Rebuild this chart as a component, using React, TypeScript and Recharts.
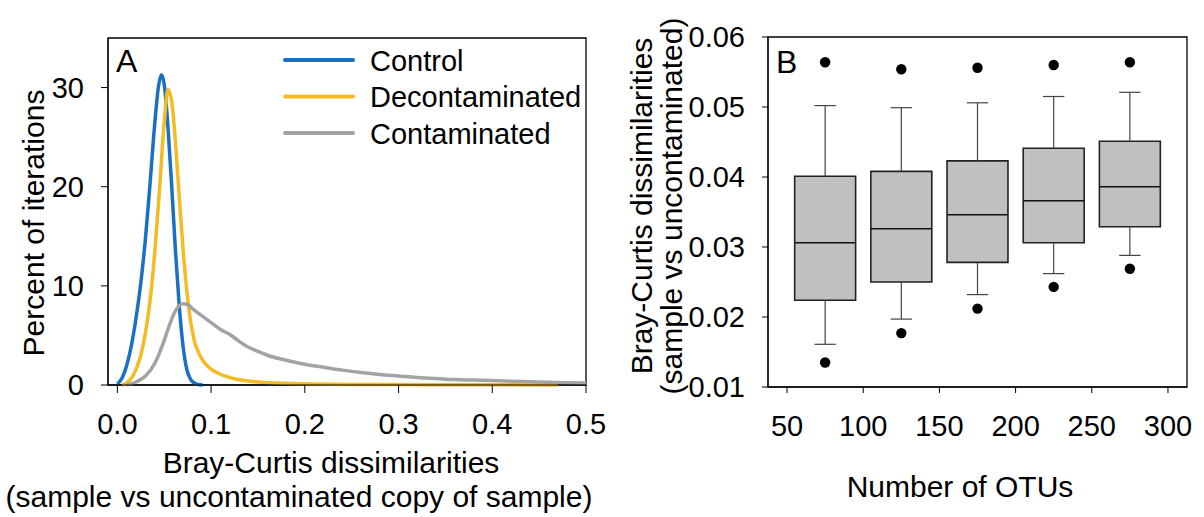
import React from 'react';
import {
  ComposedChart, Line, Scatter, XAxis, YAxis, ZAxis, ReferenceArea, ReferenceLine,
} from 'recharts';

const FONT = '"Liberation Sans", Arial, Helvetica, sans-serif';

// Panel A: distribution of Bray-Curtis dissimilarities (percent of iterations)
const controlX = [0, 0.005, 0.01, 0.015, 0.02, 0.025, 0.03, 0.035, 0.04, 0.044, 0.047, 0.05, 0.054, 0.058, 0.062, 0.066, 0.07, 0.074, 0.078, 0.082, 0.086, 0.091];
const controlY = [0.1, 0.7, 2.0, 4.0, 6.8, 10.3, 14.8, 20.5, 26.5, 30.2, 31.3, 30.3, 26.0, 20.0, 13.5, 8.0, 4.0, 1.6, 0.6, 0.2, 0.05, 0];

const deconX = [0.005, 0.01, 0.015, 0.02, 0.025, 0.03, 0.035, 0.04, 0.045, 0.05, 0.054, 0.058, 0.062, 0.066, 0.07, 0.074, 0.078, 0.082, 0.088, 0.095, 0.105, 0.12, 0.14, 0.17, 0.2, 0.25, 0.3, 0.35, 0.4, 0.47];
const deconY = [0, 0.2, 0.7, 1.6, 3.0, 5.3, 8.6, 13.5, 19.8, 26.5, 29.8, 28.6, 24.5, 19.0, 13.8, 9.6, 6.5, 4.5, 3.0, 2.0, 1.3, 0.75, 0.4, 0.2, 0.12, 0.06, 0.04, 0.03, 0.02, 0.01];

const contamX = [0.01, 0.02, 0.03, 0.04, 0.05, 0.055, 0.06, 0.065, 0.07, 0.075, 0.08, 0.09, 0.1, 0.11, 0.12, 0.13, 0.14, 0.15, 0.16, 0.18, 0.2, 0.22, 0.24, 0.26, 0.28, 0.3, 0.32, 0.34, 0.36, 0.38, 0.4, 0.42, 0.44, 0.46, 0.48, 0.5];
const contamY = [0, 0.3, 0.9, 2.2, 4.5, 5.9, 7.1, 7.9, 8.2, 8.1, 7.7, 7.0, 6.3, 5.6, 5.1, 4.4, 3.8, 3.4, 3.0, 2.5, 2.1, 1.8, 1.5, 1.25, 1.05, 0.9, 0.75, 0.65, 0.55, 0.5, 0.45, 0.38, 0.32, 0.27, 0.22, 0.2];

const xTicksA = [0, 0.1, 0.2, 0.3, 0.4, 0.5];
const yTicksA = [0, 10, 20, 30];

const seriesA = [
  { name: 'Control', color: '#1a70c2', xs: controlX, ys: controlY },
  { name: 'Decontaminated', color: '#f5bb24', xs: deconX, ys: deconY },
  { name: 'Contaminated', color: '#a3a3a3', xs: contamX, ys: contamY },
];

// Panel B: box plots by number of OTUs
const otus = [75, 125, 175, 225, 275];
const whiskerLow = [0.0161, 0.0197, 0.0232, 0.0262, 0.0288];
const q1 = [0.0224, 0.0250, 0.0278, 0.0306, 0.0329];
const median = [0.0306, 0.0326, 0.0346, 0.0366, 0.0386];
const q3 = [0.0401, 0.0408, 0.0423, 0.0441, 0.0451];
const whiskerHigh = [0.0502, 0.0499, 0.0506, 0.0515, 0.0521];
const outlierLow = [0.0135, 0.0177, 0.0212, 0.0243, 0.0269];
const outlierHigh = [0.0564, 0.0554, 0.0556, 0.0560, 0.0564];

const xTicksB = [50, 100, 150, 200, 250, 300];
const yTicksB = [0.01, 0.02, 0.03, 0.04, 0.05, 0.06];

const BOX_HALF = 20;
const CAP_HALF = 7;

const tickStyle = { fill: '#000', fontSize: 29, fontFamily: FONT };

const zip = (xs: number[], ys: number[]) => xs.map((x, i) => ({ x, y: ys[i] }));

const outliers = otus.flatMap((x, i) => [
  { x, y: outlierLow[i] },
  { x, y: outlierHigh[i] },
]);

const PanelA = () => (
  <ComposedChart width={630} height={517} margin={{ top: 38, right: 44, bottom: 0, left: 0 }}>
    <XAxis
      type="number"
      dataKey="x"
      domain={[-0.01, 0.5]}
      ticks={xTicksA}
      tickFormatter={(v: number) => v.toFixed(1)}
      height={132}
      tickSize={8}
      tickMargin={20}
      stroke="#000"
      tick={tickStyle}
      allowDataOverflow
    />
    <YAxis
      type="number"
      domain={[0, 35]}
      ticks={yTicksA}
      width={108}
      tickSize={7}
      tickMargin={17}
      stroke="#000"
      tick={tickStyle}
    />
    {seriesA.map((s) => (
      <Line
        key={s.name}
        data={zip(s.xs, s.ys)}
        dataKey="y"
        type="monotone"
        stroke={s.color}
        strokeWidth={3.5}
        dot={false}
        activeDot={false}
        isAnimationActive={false}
      />
    ))}
    <ReferenceArea x1={-0.01} x2={0.5} y1={0} y2={35} fill="none" stroke="#000" strokeWidth={1.3} ifOverflow="visible" />
  </ComposedChart>
);

const PanelB = () => (
  <ComposedChart width={604} height={517} margin={{ top: 37, right: 17, bottom: 0, left: 0 }}>
    <XAxis
      type="number"
      dataKey="x"
      domain={[37.5, 312.5]}
      ticks={xTicksB}
      height={130}
      tickSize={6}
      tickMargin={22}
      stroke="#000"
      tick={tickStyle}
      allowDataOverflow
    />
    <YAxis
      type="number"
      dataKey="y"
      domain={[0.01, 0.06]}
      ticks={yTicksB}
      tickFormatter={(v: number) => v.toFixed(2)}
      width={168}
      tickSize={6}
      tickMargin={17}
      stroke="#000"
      tick={tickStyle}
      allowDataOverflow
    />
    <ZAxis range={[85, 85]} />
    {otus.map((x, i) => (
      <ReferenceLine key={`wl${x}`} segment={[{ x, y: whiskerLow[i] }, { x, y: q1[i] }]} stroke="#444" strokeWidth={1.2} ifOverflow="visible" />
    ))}
    {otus.map((x, i) => (
      <ReferenceLine key={`wh${x}`} segment={[{ x, y: q3[i] }, { x, y: whiskerHigh[i] }]} stroke="#444" strokeWidth={1.2} ifOverflow="visible" />
    ))}
    {otus.map((x, i) => (
      <ReferenceLine key={`cl${x}`} segment={[{ x: x - CAP_HALF, y: whiskerLow[i] }, { x: x + CAP_HALF, y: whiskerLow[i] }]} stroke="#444" strokeWidth={1.2} ifOverflow="visible" />
    ))}
    {otus.map((x, i) => (
      <ReferenceLine key={`ch${x}`} segment={[{ x: x - CAP_HALF, y: whiskerHigh[i] }, { x: x + CAP_HALF, y: whiskerHigh[i] }]} stroke="#444" strokeWidth={1.2} ifOverflow="visible" />
    ))}
    {otus.map((x, i) => (
      <ReferenceArea key={`box${x}`} x1={x - BOX_HALF} x2={x + BOX_HALF} y1={q1[i]} y2={q3[i]} fill="#c0c0c0" fillOpacity={1} stroke="#222" strokeWidth={1.6} ifOverflow="visible" />
    ))}
    {otus.map((x, i) => (
      <ReferenceLine key={`md${x}`} segment={[{ x: x - BOX_HALF, y: median[i] }, { x: x + BOX_HALF, y: median[i] }]} stroke="#111" strokeWidth={1.6} ifOverflow="visible" />
    ))}
    <Scatter data={outliers} dataKey="y" fill="#000" isAnimationActive={false} />
    <ReferenceArea x1={37.5} x2={312.5} y1={0.01} y2={0.06} fill="none" stroke="#000" strokeWidth={1.3} ifOverflow="visible" />
  </ComposedChart>
);

const Overlay = () => (
  <svg width={1204} height={517} style={{ position: 'absolute', left: 0, top: 0, pointerEvents: 'none' }} fontFamily={FONT} fill="#000">
    <text x={116} y={72} fontSize={32}>A</text>
    <text x={776} y={73} fontSize={32}>B</text>
    {seriesA.map((s, i) => (
      <g key={s.name}>
        <line x1={285} x2={353} y1={60 + i * 36.5} y2={60 + i * 36.5} stroke={s.color} strokeWidth={4} strokeLinecap="round" />
        <text x={370} y={70.5 + i * 36.5} fontSize={29}>{s.name}</text>
      </g>
    ))}
    <text transform="translate(44,223) rotate(-90)" textAnchor="middle" fontSize={30}>Percent of iterations</text>
    <text x={331} y={473} textAnchor="middle" fontSize={30}>Bray-Curtis dissimilarities</text>
    <text x={299} y={507} textAnchor="middle" fontSize={30}>(sample vs uncontaminated copy of sample)</text>
    <text transform="translate(652,206) rotate(-90)" textAnchor="middle" fontSize={30}>Bray-Curtis dissimilarities</text>
    <text transform="translate(682,206) rotate(-90)" textAnchor="middle" fontSize={30}>(sample vs uncontaminated)</text>
    <text x={960} y={497} textAnchor="middle" fontSize={30}>Number of OTUs</text>
  </svg>
);

export default function App() {
  return (
    <div style={{ position: 'absolute', left: 0, top: 0, width: 1204, height: 517, background: '#fff', fontFamily: FONT, overflow: 'hidden' }}>
      <div style={{ position: 'absolute', left: 0, top: 0 }}>
        <PanelA />
      </div>
      <div style={{ position: 'absolute', left: 600, top: 0 }}>
        <PanelB />
      </div>
      <Overlay />
    </div>
  );
}
